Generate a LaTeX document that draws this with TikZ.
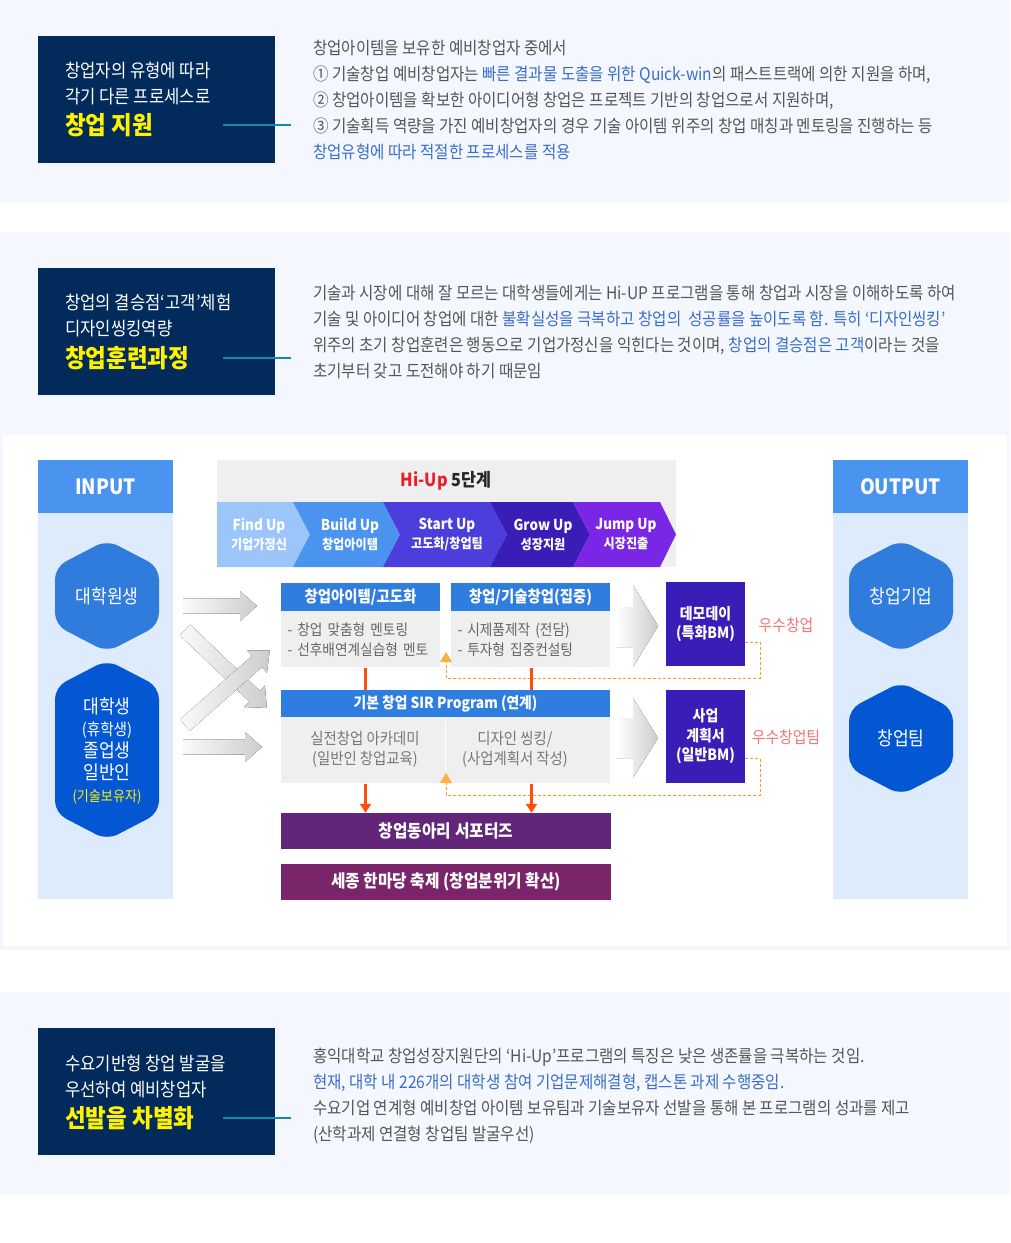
\documentclass[tikz,border=0pt]{standalone}
\usepackage{fontspec}
\setmainfont{Noto Sans CJK KR}[FakeStretch=0.9]
\usetikzlibrary{arrows.meta, positioning, calc}
\definecolor{bandBg}{HTML}{F4F8FE}
\definecolor{navyBox}{HTML}{022A5B}
\definecolor{tealLine}{HTML}{138AAE}
\definecolor{hiYellow}{HTML}{FFF200}
\definecolor{bodyGray}{HTML}{555555}
\definecolor{linkBlue}{HTML}{3A6DCB}
\definecolor{colHead}{HTML}{4A94EF}
\definecolor{colBody}{HTML}{DDEBFD}
\definecolor{hexLight}{HTML}{2F7CDD}
\definecolor{hexDark}{HTML}{0357D2}
\definecolor{stepBg}{HTML}{EFEFEF}
\definecolor{hiRed}{HTML}{E8202A}
\definecolor{stepA}{HTML}{9CC6F9}
\definecolor{stepB}{HTML}{4A94EF}
\definecolor{stepC}{HTML}{4B3EDC}
\definecolor{stepD}{HTML}{3A1DB6}
\definecolor{stepE}{HTML}{7A27E5}
\definecolor{boxHead}{HTML}{2F7DDE}
\definecolor{boxBody}{HTML}{EFEFEF}
\definecolor{bmBox}{HTML}{3A1DB6}
\definecolor{flowRed}{HTML}{FF4E0A}
\definecolor{loopOrange}{HTML}{FF9A1F}
\definecolor{loopTip}{HTML}{FFB040}
\definecolor{awardPink}{HTML}{F2767A}
\definecolor{clubPurple}{HTML}{622579}
\definecolor{festPurple}{HTML}{7A246A}
\definecolor{arrowGray}{HTML}{CDCDCD}

% fat gray arrow: start x, start y, angle, length
\newcommand\fatarrow[4]{%
  \begin{scope}[shift={(#1,#2)}, rotate=#3]
    \fill[left color=arrowGray!10, right color=arrowGray]
      (0,-7.5) -- ({#4-17},-7.5) -- ({#4-17},-15) -- (#4,0)
      -- ({#4-17},15) -- ({#4-17},7.5) -- (0,7.5) -- cycle;
  \end{scope}}

\begin{document}
\begin{tikzpicture}[
    x=1pt, y=-1pt,
    para/.style={anchor=west, inner sep=0, text=bodyGray,
                 font=\fontsize{17.3}{20}\selectfont,
                 text height=13.1pt, text depth=0pt},
    boxline/.style={anchor=west, inner sep=0, text=white,
                    font=\fontsize{18.5}{22}\selectfont,
                    text height=14pt, text depth=0pt},
    boxtitle/.style={anchor=west, inner sep=0, text=hiYellow,
                     font=\fontsize{25}{29}\selectfont\bfseries,
                     text height=19pt, text depth=0pt},
    navybox/.style={fill=navyBox, minimum width=237pt,
                    minimum height=127pt, inner sep=0, anchor=north west},
    tealrule/.style={tealLine, line width=1.5pt},
    colhead/.style={fill=colHead, minimum width=135pt, minimum height=53pt,
                    inner sep=0, text=white,
                    font=\fontsize{21}{25}\selectfont\bfseries},
    colbody/.style={fill=colBody, minimum width=135pt,
                    minimum height=386pt, inner sep=0},
    hexlabel/.style={text=white, align=center, inner sep=0,
                     font=\fontsize{19}{22}\selectfont},
    steplabel/.style={text=white, align=center, inner sep=0,
                      font=\fontsize{15}{19}\selectfont\bfseries},
    cardhead/.style={fill=boxHead, text=white, minimum height=28pt,
                     inner sep=0, font=\fontsize{16}{19}\selectfont\bfseries},
    cardbody/.style={fill=boxBody, text=bodyGray!90, align=left,
                     text width=146pt, inner xsep=6.5pt, inner ysep=0,
                     minimum height=56pt,
                     font=\fontsize{15.2}{20}\selectfont},
    sirtext/.style={text=bodyGray!80, align=center, inner sep=0,
                    font=\fontsize{16}{20}\selectfont},
    bmbox/.style={fill=bmBox, minimum width=79pt, text=white, align=center,
                  inner sep=0, font=\fontsize{15.5}{19.5}\selectfont\bfseries},
    award/.style={text=awardPink, inner sep=0,
                  font=\fontsize{16.5}{19}\selectfont},
    banner/.style={minimum width=330pt, minimum height=36pt, text=white,
                   inner sep=0, font=\fontsize{17.5}{20}\selectfont\bfseries},
    flowline/.style={flowRed, line width=3pt},
    loopline/.style={loopOrange, dashed, dash pattern=on 3pt off 2pt,
                     line width=1pt,
                     -{Triangle[width=12pt, length=10pt, fill=loopTip, color=loopTip]}},
]
% page and bands
\useasboundingbox (0,0) rectangle (1010,1243);
\fill[white] (0,0) rectangle (1010,1243);
\fill[bandBg] (0,0) rectangle (1010,203);
\fill[bandBg] (0,232) rectangle (1010,950);
\fill[white] (3,435) rectangle (1007,946);
\fill[bandBg] (0,992) rectangle (1010,1195);

% Section 1
\node[navybox] (box1) at (38,36) {};
\node[boxline] (b1a) at (65,70) {창업자의 유형에 따라};
\node[boxline] (b1b) at ([yshift=-26pt]b1a.west) {각기 다른 프로세스로};
\node[boxtitle] (b1c) at (65,125) {창업 지원};
\draw[tealrule] ([xshift=-52pt]box1.east |- b1c.west) -- ([xshift=16pt]box1.east |- b1c.west);

\node[para] (p1a) at (313,48) {창업아이템을 보유한 예비창업자 중에서};
\node[para] (p1b) at ([yshift=-26pt]p1a.west) {① 기술창업 예비창업자는 \textcolor{linkBlue}{빠른 결과물 도출을 위한 Quick-win}의 패스트트랙에 의한 지원을 하며,};
\node[para] (p1c) at ([yshift=-26pt]p1b.west) {② 창업아이템을 확보한 아이디어형 창업은 프로젝트 기반의 창업으로서 지원하며,};
\node[para] (p1d) at ([yshift=-26pt]p1c.west) {③ 기술획득 역량을 가진 예비창업자의 경우 기술 아이템 위주의 창업 매칭과 멘토링을 진행하는 등};
\node[para] (p1e) at ([yshift=-26pt]p1d.west) {\textcolor{linkBlue}{창업유형에 따라 적절한 프로세스를 적용}};

% Section 2
\node[navybox] (box2) at (38,268) {};
\node[boxline] (b2a) at (65,302) {창업의 결승점‘고객’체험};
\node[boxline] (b2b) at ([yshift=-26pt]b2a.west) {디자인씽킹역량};
\node[boxtitle] (b2c) at (65,358) {창업훈련과정};
\draw[tealrule] ([xshift=-52pt]box2.east |- b2c.west) -- ([xshift=16pt]box2.east |- b2c.west);

\node[para] (p2a) at (313,293) {기술과 시장에 대해 잘 모르는 대학생들에게는 Hi-UP 프로그램을 통해 창업과 시장을 이해하도록 하여};
\node[para] (p2b) at ([yshift=-26pt]p2a.west) {기술 및 아이디어 창업에 대한 \textcolor{linkBlue}{불확실성을 극복하고 창업의 \ 성공률을 높이도록 함. 특히 ‘디자인씽킹’}};
\node[para] (p2c) at ([yshift=-26pt]p2b.west) {위주의 초기 창업훈련은 행동으로 기업가정신을 익힌다는 것이며, \textcolor{linkBlue}{창업의 결승점은 고객}이라는 것을};
\node[para] (p2d) at ([yshift=-26pt]p2c.west) {초기부터 갖고 도전해야 하기 때문임};

% INPUT / OUTPUT columns
\node[colhead] (inHead) at (105.5,486.5) {INPUT};
\node[colbody, below=0pt of inHead] (inBody) {};
\node[colhead] (outHead) at (900.5,486.5) {OUTPUT};
\node[colbody, below=0pt of outHead] (outBody) {};

\fill[hexLight, rounded corners=12pt] (107,540) -- (159,567) -- (159,625) -- (107,652) -- (55,625) -- (55,567) -- cycle;
\node[hexlabel] (hexGrad) at (107,596) {대학원생};
\fill[hexDark, rounded corners=12pt] (107,660) -- (159,687) -- (159,813) -- (107,840) -- (55,813) -- (55,687) -- cycle;
\node[hexlabel] (hexStu) at (107,751) {대학생\\{\fontsize{16.3}{22}\selectfont(휴학생)}\\졸업생\\일반인\\{\fontsize{14.5}{22}\selectfont\color{hiYellow}(기술보유자)}};

\fill[hexLight, rounded corners=12pt] (901,540) -- (953,567) -- (953,625) -- (901,652) -- (849,625) -- (849,567) -- cycle;
\node[hexlabel] (hexCo) at (901,596) {창업기업};
\fill[hexDark, rounded corners=12pt] (901,682) -- (953,709) -- (953,768) -- (901,795) -- (849,768) -- (849,709) -- cycle;
\node[hexlabel] (hexTeam) at (901,738) {창업팀};

% Hi-Up steps
\node[fill=stepBg, minimum width=459pt, minimum height=107pt, inner sep=0] (hiBg) at (446.5,513.5) {};
\node[inner sep=0, text=black!85, font=\fontsize{18}{22}\selectfont\bfseries] (hiTitle) at (446,481) {\textcolor{hiRed}{Hi-Up} 5단계};
\fill[stepA] (217,502) -- (293,502) -- (310,534.5) -- (293,567) -- (217,567) -- cycle;
\fill[stepB] (293,502) -- (383,502) -- (400,534.5) -- (383,567) -- (293,567) -- (310,534.5) -- cycle;
\fill[stepC] (383,502) -- (490,502) -- (507,534.5) -- (490,567) -- (383,567) -- (400,534.5) -- cycle;
\fill[stepD] (490,502) -- (573,502) -- (590,534.5) -- (573,567) -- (490,567) -- (507,534.5) -- cycle;
\fill[stepE] (573,502) -- (660,502) -- (676,534.5) -- (660,567) -- (573,567) -- (590,534.5) -- cycle;
\node[steplabel] (sFind) at (259,534.5) {Find Up\\{\fontsize{13.5}{19}\selectfont 기업가정신}};
\node[steplabel] (sBuild) at (350,534.5) {Build Up\\{\fontsize{13.5}{19}\selectfont 창업아이템}};
\node[steplabel] (sStart) at (447,534.5) {Start Up\\{\fontsize{13.5}{19}\selectfont 고도화/창업팀}};
\node[steplabel] (sGrow) at (543,534.5) {Grow Up\\{\fontsize{13.5}{19}\selectfont 성장지원}};
\node[steplabel] (sJump) at (626,534.5) {Jump Up\\{\fontsize{13.5}{19}\selectfont 시장진출}};

% gray flow arrows
\fatarrow{183}{606}{0}{74}
\fatarrow{183}{747}{0}{79}
\fatarrow{185}{630}{-43.6}{113}
\fatarrow{185}{725}{41.4}{113}
\fill[left color=white, right color=arrowGray] (616,607) -- (633,607) -- (633,585) -- (658,626) -- (633,667) -- (633,647) -- (616,647) -- cycle;
\fill[left color=white, right color=arrowGray] (616,718) -- (633,718) -- (633,698) -- (658,738) -- (633,778) -- (633,758) -- (616,758) -- cycle;

% program cards
\node[cardhead, minimum width=159pt] (hA) at (360.5,597) {창업아이템/고도화};
\node[cardbody, below=0pt of hA] (bA) {- 창업 맞춤형 멘토링\\- 선후배연계실습형 멘토};
\node[cardhead, minimum width=159pt] (hB) at (530.5,597) {창업/기술창업(집중)};
\node[cardbody, below=0pt of hB] (bB) {- 시제품제작 (전담)\\- 투자형 집중컨설팅};
\node[cardhead, minimum width=329pt, minimum height=27pt, font=\fontsize{15.3}{18}\selectfont\bfseries] (hS) at (445.5,703.5) {기본 창업 SIR Program (연계)};
\node[fill=boxBody, minimum width=329pt, minimum height=66pt, inner sep=0, below=0pt of hS] (bS) {};
\draw[white, line width=1pt] (bS.north) -- ([yshift=13pt]bS.south);
\node[sirtext] (sL) at (365,749) {실전창업 아카데미\\(일반인 창업교육)};
\node[sirtext] (sR) at (515,749) {디자인 씽킹/\\(사업계획서 작성)};

% BM boxes
\node[bmbox, minimum height=84pt] (dDemo) at (705.5,624) {데모데이\\(특화BM)};
\node[bmbox, minimum height=93pt] (dPlan) at (705.5,736.5) {사업\\계획서\\(일반BM)};
\node[award] (aDemo) at (786,625) {우수창업};
\node[award] (aPlan) at (786,737) {우수창업팀};

% club and festival
\node[banner, fill=clubPurple] (club) at (446,831) {창업동아리 서포터즈};
\node[banner, fill=festPurple] (fest) at (446,882) {세종 한마당 축제 (창업분위기 확산)};

% connectors
\draw[flowline] ([xshift=5pt]bA.south) -- ([xshift=5pt]bA.south |- hS.north);
\draw[flowline] ([xshift=1pt]bB.south) -- ([xshift=1pt]bB.south |- hS.north);
\draw[flowline, -{Triangle[width=11pt, length=9pt]}] ([xshift=5pt]bA.south |- bS.south) -- ([xshift=5pt]bA.south |- club.north);
\draw[flowline, -{Triangle[width=11pt, length=9pt]}] ([xshift=1pt]bB.south |- bS.south) -- ([xshift=1pt]bB.south |- club.north);

\coordinate (tipA) at (446,652);
\coordinate (tipS) at (446,773);
\coordinate (loopA) at (760,678);
\coordinate (loopS) at (760,795);
\draw[loopline] ([yshift=-18pt]dDemo.east) -| (loopA) -| (tipA);
\draw[loopline] ([yshift=-22pt]dPlan.east) -| (loopS) -| (tipS);

% Section 3
\node[navybox] (box3) at (38,1028) {};
\node[boxline] (b3a) at (65,1063) {수요기반형 창업 발굴을};
\node[boxline] (b3b) at ([yshift=-26pt]b3a.west) {우선하여 예비창업자};
\node[boxtitle] (b3c) at (65,1118) {선발을 차별화};
\draw[tealrule] ([xshift=-52pt]box3.east |- b3c.west) -- ([xshift=16pt]box3.east |- b3c.west);

\node[para] (p3a) at (313,1056) {홍익대학교 창업성장지원단의 ‘Hi-Up’프로그램의 특징은 낮은 생존률을 극복하는 것임.};
\node[para] (p3b) at ([yshift=-26pt]p3a.west) {\textcolor{linkBlue}{현재, 대학 내 226개의 대학생 참여 기업문제해결형, 캡스톤 과제 수행중임.}};
\node[para] (p3c) at ([yshift=-26pt]p3b.west) {수요기업 연계형 예비창업 아이템 보유팀과 기술보유자 선발을 통해 본 프로그램의 성과를 제고};
\node[para] (p3d) at ([yshift=-26pt]p3c.west) {(산학과제 연결형 창업팀 발굴우선)};
\end{tikzpicture}
\end{document}
